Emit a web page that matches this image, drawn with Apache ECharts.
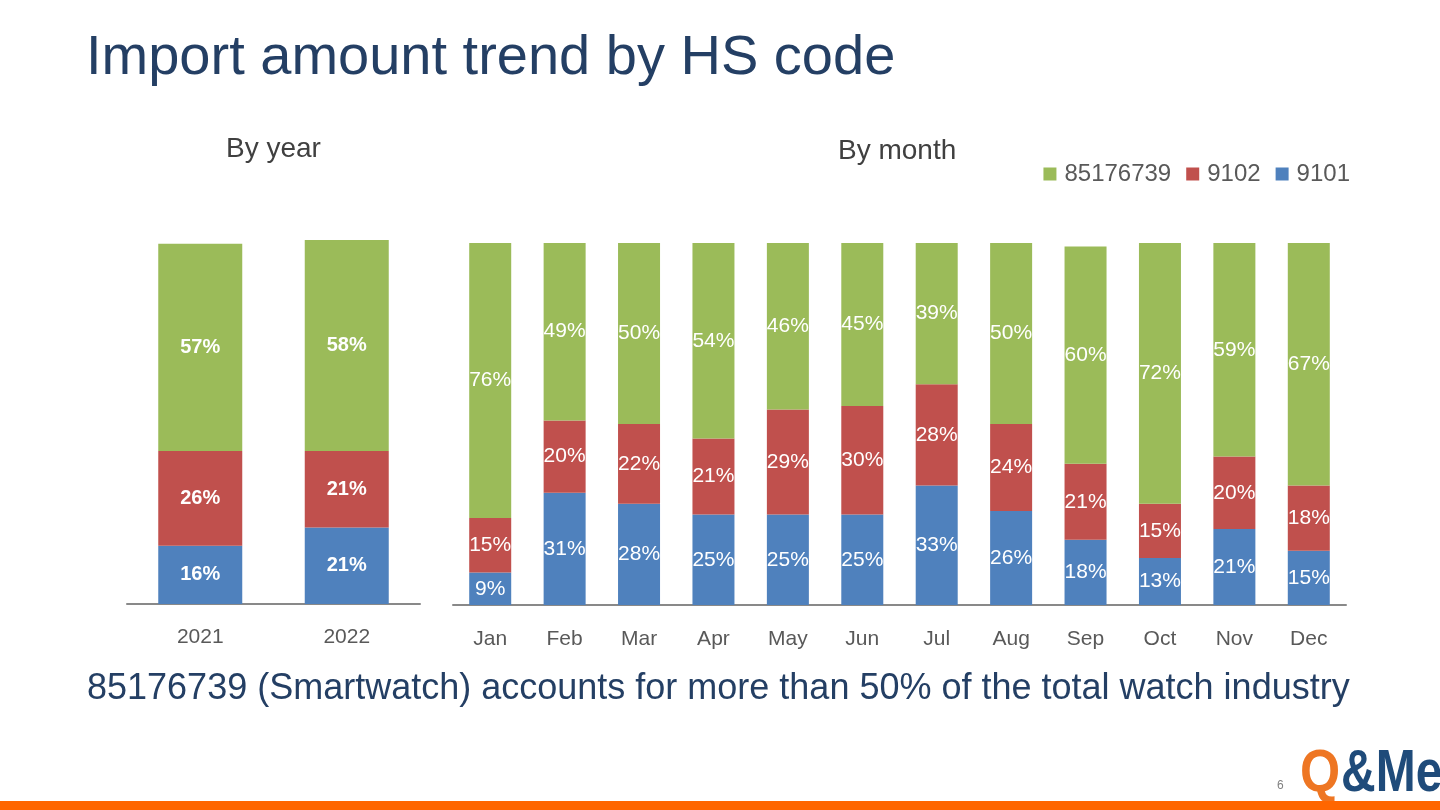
<!DOCTYPE html>
<html>
<head>
<meta charset="utf-8">
<script src="https://cdn.jsdelivr.net/npm/echarts@6/dist/echarts.min.js"></script>
<style>
html,body{margin:0;padding:0;background:#fff;}
#c{width:1440px;height:810px;}
</style>
</head>
<body>
<div id="c"></div>
<script>
// ---- data ----
const years = ['2021', '2022'];
const yearS9101 = [16, 21];
const yearS9102 = [26, 21];
const yearS85176739 = [57, 58];

const months = ['Jan','Feb','Mar','Apr','May','Jun','Jul','Aug','Sep','Oct','Nov','Dec'];
const monS9101 = [9, 31, 28, 25, 25, 25, 33, 26, 18, 13, 21, 15];
const monS9102 = [15, 20, 22, 21, 29, 30, 28, 24, 21, 15, 20, 18];
const monS85176739 = [76, 49, 50, 54, 46, 45, 39, 50, 60, 72, 59, 67];

const seriesNames = ['85176739', '9102', '9101'];
const colors = {'85176739': '#9BBB59', '9102': '#C0504D', '9101': '#4F81BD'};

const FONT = '"Liberation Sans", Arial, sans-serif';
const chart = echarts.init(document.getElementById('c'), null, {renderer: 'canvas'});

function barSeries(name, data, idx, w, labelFont) {
  return {
    name: name, type: 'bar', stack: 's' + idx,
    xAxisIndex: idx, yAxisIndex: idx,
    data: data, barWidth: w,
    itemStyle: {color: colors[name]},
    label: {show: true, position: 'inside', formatter: '{c}%', color: '#fff',
      fontFamily: FONT, fontSize: labelFont.size, fontWeight: labelFont.weight},
    emphasis: {disabled: true}
  };
}

const xAxisBase = (data, idx, margin) => ({
  type: 'category', gridIndex: idx, data: data,
  axisLine: {show: true, lineStyle: {color: '#898989', width: 2}},
  axisTick: {show: false},
  axisLabel: {fontSize: 21, color: '#595959', fontFamily: FONT, margin: margin}
});

const option = {
  animation: false,
  textStyle: {fontFamily: FONT},
  legend: {
    data: seriesNames, right: 85, top: 157,
    icon: 'rect', itemWidth: 13, itemHeight: 13, itemGap: 15,
    textStyle: {fontSize: 24, color: '#595959', fontFamily: FONT, padding: [0, 0, 0, 3]},
    selectedMode: false
  },
  grid: [
    {left: 127, width: 293, top: 240, height: 364},
    {left: 453, width: 893, top: 243, height: 362}
  ],
  xAxis: [xAxisBase(years, 0, 23), xAxisBase(months, 1, 24)],
  yAxis: [
    {type: 'value', gridIndex: 0, min: 0, max: 100, show: false},
    {type: 'value', gridIndex: 1, min: 0, max: 100, show: false}
  ],
  series: [
    barSeries('9101', yearS9101, 0, 84, {size: 20, weight: 'bold'}),
    barSeries('9102', yearS9102, 0, 84, {size: 20, weight: 'bold'}),
    barSeries('85176739', yearS85176739, 0, 84, {size: 20, weight: 'bold'}),
    barSeries('9101', monS9101, 1, 42, {size: 21, weight: 'normal'}),
    barSeries('9102', monS9102, 1, 42, {size: 21, weight: 'normal'}),
    barSeries('85176739', monS85176739, 1, 42, {size: 21, weight: 'normal'})
  ],
  graphic: [
    {type: 'text', left: 86, top: 31, style: {text: 'Import amount trend by HS code', fontSize: 56, fill: '#243F64', fontFamily: FONT}},
    {type: 'text', left: 226, top: 135, style: {text: 'By year', fontSize: 28, fill: '#404040', fontFamily: FONT}},
    {type: 'text', left: 838, top: 137, style: {text: 'By month', fontSize: 28, fill: '#404040', fontFamily: FONT}},
    {type: 'text', left: 87, top: 671, style: {text: '85176739 (Smartwatch) accounts for more than 50% of the total watch industry', fontSize: 36, fill: '#243F64', fontFamily: FONT}},
    {type: 'text', left: 1277, top: 780, style: {text: '6', fontSize: 12, fill: '#808080', fontFamily: FONT}},
    {type: 'text', x: 1300, y: 744, scaleX: 0.86, style: {text: 'Q', fontSize: 60, fontWeight: 'bold', fill: '#EE7623', fontFamily: FONT}},
    {type: 'text', x: 1341, y: 744, scaleX: 0.8, style: {text: '&Me', fontSize: 60, fontWeight: 'bold', fill: '#1F4B7A', fontFamily: FONT}},
    {type: 'rect', shape: {x: 0, y: 801, width: 1440, height: 9}, style: {fill: '#FF6600'}}
  ]
};
chart.setOption(option);
</script>
</body>
</html>
